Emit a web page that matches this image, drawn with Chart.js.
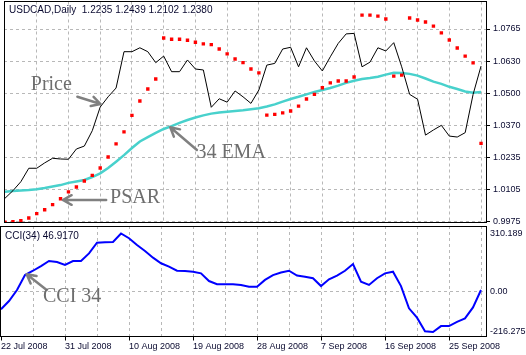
<!DOCTYPE html>
<html><head><meta charset="utf-8">
<script src="https://cdn.jsdelivr.net/npm/chart.js@4.4.0/dist/chart.umd.min.js"></script>
<style>
html,body{margin:0;padding:0;background:#fff;overflow:hidden;width:526px;height:355px;position:relative}
canvas{position:absolute;left:0}
#top{top:-12px;width:526px;height:248px}
#bot{top:212px;width:526px;height:143px}
</style></head>
<body>
<canvas id="top" width="526" height="248"></canvas>
<canvas id="bot" width="526" height="143"></canvas>
<script>
// ---- data ----
const dates = ['22 Jul 2008','23 Jul 2008','24 Jul 2008','25 Jul 2008','27 Jul 2008','28 Jul 2008','29 Jul 2008','30 Jul 2008','31 Jul 2008',
 '1 Aug 2008','3 Aug 2008','4 Aug 2008','5 Aug 2008','6 Aug 2008','7 Aug 2008','8 Aug 2008','10 Aug 2008','11 Aug 2008','12 Aug 2008','13 Aug 2008',
 '14 Aug 2008','15 Aug 2008','17 Aug 2008','18 Aug 2008','19 Aug 2008','20 Aug 2008','21 Aug 2008','22 Aug 2008','24 Aug 2008','25 Aug 2008',
 '26 Aug 2008','27 Aug 2008','28 Aug 2008','29 Aug 2008','31 Aug 2008','1 Sep 2008','2 Sep 2008','3 Sep 2008','4 Sep 2008','5 Sep 2008',
 '7 Sep 2008','8 Sep 2008','9 Sep 2008','10 Sep 2008','11 Sep 2008','12 Sep 2008','14 Sep 2008','15 Sep 2008','16 Sep 2008','17 Sep 2008',
 '18 Sep 2008','19 Sep 2008','21 Sep 2008','22 Sep 2008','23 Sep 2008','24 Sep 2008','25 Sep 2008','26 Sep 2008','28 Sep 2008','29 Sep 2008','30 Sep 2008'];

const price = [1.0071,1.0102,1.0139,1.0194,1.0194,1.0216,1.0235,1.0232,1.0231,1.0273,
 1.0285,1.0348,1.0445,1.0487,1.0523,1.0672,1.0672,1.0688,1.0672,1.0627,
 1.0654,1.0590,1.0590,1.0638,1.0601,1.0597,1.0444,1.0479,1.0465,1.0511,
 1.0487,1.0460,1.0515,1.0617,1.0624,1.0683,1.0690,1.0610,1.0688,1.0634,
 1.0593,1.0651,1.0706,1.0745,1.0747,1.0610,1.0629,1.0688,1.0675,1.0709,
 1.0610,1.0497,1.0477,1.0330,1.0351,1.0370,1.0326,1.0322,1.0340,1.0497,
 1.0613];

const ema34 = [1.0098,1.0101,1.0103,1.0105,1.0108,1.0113,1.0119,1.0125,1.0134,1.0140,
 1.0146,1.0158,1.0173,1.0195,1.0221,1.0248,1.0277,1.0304,1.0322,1.0339,
 1.0355,1.0367,1.0380,1.0392,1.0402,1.0411,1.0418,1.0423,1.0426,1.0429,
 1.0432,1.0436,1.0440,1.0447,1.0456,1.0467,1.0478,1.0487,1.0497,1.0507,
 1.0515,1.0523,1.0533,1.0544,1.0553,1.0560,1.0564,1.0569,1.0578,1.0586,
 1.0585,1.0581,1.0574,1.0562,1.0549,1.0540,1.0528,1.0519,1.0509,1.0504,
 1.0507];

const psar = [0.9973,0.9975,0.9979,0.9990,1.0008,1.0024,1.0045,1.0069,1.0097,1.0117,
 1.0142,1.0165,1.0195,1.0240,1.0294,1.0343,1.0411,1.0470,1.0519,1.0560,
 1.0728,1.0723,1.0723,1.0719,1.0711,1.0704,1.0701,1.0683,1.0663,1.0642,
 1.0627,1.0601,1.0585,1.0412,1.0415,1.0421,1.0429,1.0449,1.0478,1.0497,
 1.0524,1.0544,1.0552,1.0552,1.0568,1.0822,1.0822,1.0818,1.0806,1.0572,
 1.0576,1.0810,1.0802,1.0794,1.0777,1.0749,1.0720,1.0687,1.0654,1.0626,
 1.0296];

const cci34 = [-95,-51,8,88,111,136,163,158,142,163,
 163,204,261,263,265,310.189,285,249,217,181,
 151,133,111,110,106,97,56,39,39,39,
 35,26,26,62,88,102,111,85,79,71,
 29,65,85,111,147,52,35,71,97,106,
 29,-90,-140,-213,-216.275,-185,-185,-162,-144,-85,
 8];

const priceTickValues = [1.0765,1.06333,1.05017,1.0370,1.02383,1.01067,0.9975];
const priceTickLabels = ['1.0765','1.0630','1.0500','1.0370','1.0235','1.0105','0.9975'];
const cciTickValues = [310.189,0,-216.275];
const cciTickLabels = ['310.189','0.00','-216.275'];
const gridBars = [0,4,8,12,16,20,24,28,32,36,40,44,48,52,56,60];
const labelBars = [0,8,16,24,32,40,48,56];

const titleText = 'USDCAD,Daily  1.2235 1.2439 1.2102 1.2380';
const cciTitle = 'CCI(34) ' + '46.9170';

// ---- styles ----
const TXT = '#0a0a30';
const GRID = '#b8b8b8';
const FONT = {family:'Liberation Sans, Arial, sans-serif', size:9};

const pts = arr => arr.map((v,i)=>({x:i,y:v}));

const framePlugin = {
  id:'frame',
  afterDraw(chart, args, opts){
    const {ctx, chartArea:a} = chart;
    ctx.save();
    ctx.strokeStyle='#000'; ctx.lineWidth=1;
    const l=Math.round(a.left)+0.5, r=Math.round(a.right)+0.5, t=Math.floor(a.top)+0.5, b=Math.floor(a.bottom)+0.5;
    ctx.strokeRect(l,t,r-l,b-t);
    if (opts.title){
      ctx.fillStyle=TXT; ctx.font='10px "Liberation Sans", Arial, sans-serif';
      ctx.textBaseline='middle'; ctx.textAlign='left';
      ctx.fillText(opts.title, a.left+5, a.top+opts.titleDy);
    }
    ctx.restore();
  }
};

const annotPlugin = {
  id:'annot',
  afterDatasetsDraw(chart, args, opts){
    const {ctx} = chart; const xs=chart.scales.x, ys=chart.scales.y;
    ctx.save();
    (opts.arrows||[]).forEach(a=>{
      const x1=xs.getPixelForValue(a.from[0]), y1=ys.getPixelForValue(a.from[1]);
      const x2=xs.getPixelForValue(a.to[0]), y2=ys.getPixelForValue(a.to[1]);
      const ang=Math.atan2(y2-y1,x2-x1), L=10, w=0.5;
      ctx.strokeStyle='#808080'; ctx.lineWidth=2.5; ctx.lineCap='round'; ctx.lineJoin='round';
      ctx.beginPath(); ctx.moveTo(x1,y1); ctx.lineTo(x2,y2);
      ctx.moveTo(x2-L*Math.cos(ang-w), y2-L*Math.sin(ang-w)); ctx.lineTo(x2,y2);
      ctx.lineTo(x2-L*Math.cos(ang+w), y2-L*Math.sin(ang+w));
      ctx.stroke();
    });
    (opts.texts||[]).forEach(t=>{
      ctx.fillStyle='#6e6e6e'; ctx.font='20px "Liberation Serif", "Times New Roman", serif';
      ctx.textAlign='left'; ctx.textBaseline='middle';
      ctx.fillText(t.text, xs.getPixelForValue(t.at[0]), ys.getPixelForValue(t.at[1]));
    });
    ctx.restore();
  }
};

const xBase = {
  type:'linear', min:-0.125, max:60.625,
  afterBuildTicks: s => { s.ticks = gridBars.map(v=>({value:v})); },
  border:{display:false, dash:[3,3]}
};

new Chart(document.getElementById('top'), {
  type:'line',
  data:{datasets:[
    {label:'34 EMA', data:pts(ema34), borderColor:'#48D1CC', borderWidth:2.5, pointRadius:0, tension:0, order:2},
    {label:'Price', data:pts(price), borderColor:'#000000', borderWidth:1, pointRadius:0, tension:0, order:1},
    {label:'PSAR', data:pts(psar), showLine:false, pointStyle:'rect', pointRadius:2.4, backgroundColor:'#ff0000', borderWidth:0, order:0}
  ]},
  options:{
    responsive:false, animation:false, events:[],
    layout:{padding:{top:13.5,bottom:13.5,left:0,right:0}},
    plugins:{legend:{display:false}, tooltip:{enabled:false},
      frame:{title:titleText, titleDy:8.5},
      annot:{
        texts:[{text:'Price', at:[3.25,1.05354]},{text:'34 EMA', at:[24.125,1.02566]},{text:'PSAR', at:[13.25,1.00721]}],
        arrows:[{from:[9.125,1.04874], to:[12.04,1.04575]},
                {from:[24.19,1.02689], to:[20.83,1.03619]},
                {from:[12.75,1.00639], to:[7.29,1.00639]}]
      }},
    scales:{
      x:Object.assign({}, xBase, {
        ticks:{display:false},
        grid:{color:c=> (c.tick && c.tick.value===0) ? 'rgba(0,0,0,0)' : GRID, drawTicks:false, lineWidth:1},
        afterFit:s=>{s.height=0;}
      }),
      y:{
        position:'right', min:0.99716, max:1.08778,
        afterBuildTicks: s => { s.ticks = priceTickValues.map(v=>({value:v})); },
        ticks:{callback:(v,i)=>priceTickLabels[i], font:FONT, color:TXT, padding:3, autoSkip:false},
        grid:{color:GRID, tickColor:'#000', tickLength:4, lineWidth:1},
        border:{display:false, dash:[3,3]},
        afterFit:s=>{s.width=40;}
      }
    }
  },
  plugins:[framePlugin, annotPlugin]
});

new Chart(document.getElementById('bot'), {
  type:'line',
  data:{datasets:[
    {label:'CCI 34', data:pts(cci34), borderColor:'#0000ff', borderWidth:2, pointRadius:0, tension:0}
  ]},
  options:{
    responsive:false, animation:false, events:[],
    layout:{padding:{top:14,bottom:0,left:0,right:0}},
    plugins:{legend:{display:false}, tooltip:{enabled:false},
      frame:{title:cciTitle, titleDy:10},
      annot:{
        texts:[{text:'CCI 34', at:[5.25,-29.4]}],
        arrows:[{from:[5.71,8], to:[3.21,92]}]
      }},
    scales:{
      x:Object.assign({}, xBase, {
        ticks:{display:true, autoSkip:false, maxRotation:0, minRotation:0, align:'start', padding:1,
               font:FONT, color:TXT,
               callback:(v)=> labelBars.includes(v) ? dates[v] : ''},
        grid:{color:c=> (c.tick && c.tick.value===0) ? 'rgba(0,0,0,0)' : GRID,
              tickColor:c=> (c.tick && labelBars.includes(c.tick.value)) ? '#000' : 'rgba(0,0,0,0)',
              tickLength:4, drawTicks:true, lineWidth:1},
        afterFit:s=>{s.height=18.5;}
      }),
      y:{
        position:'right', min:-240.6, max:350.3,
        afterBuildTicks: s => { s.ticks = cciTickValues.map(v=>({value:v})); },
        ticks:{callback:(v,i)=>cciTickLabels[i], font:FONT, color:TXT, padding:4, autoSkip:false},
        grid:{color:c=> (c.tick && c.tick.value===0) ? GRID : 'rgba(0,0,0,0)', drawTicks:false, lineWidth:1},
        border:{display:false, dash:[3,3]},
        afterFit:s=>{s.width=40;}
      }
    }
  },
  plugins:[framePlugin, annotPlugin]
});
</script>
</body></html>
